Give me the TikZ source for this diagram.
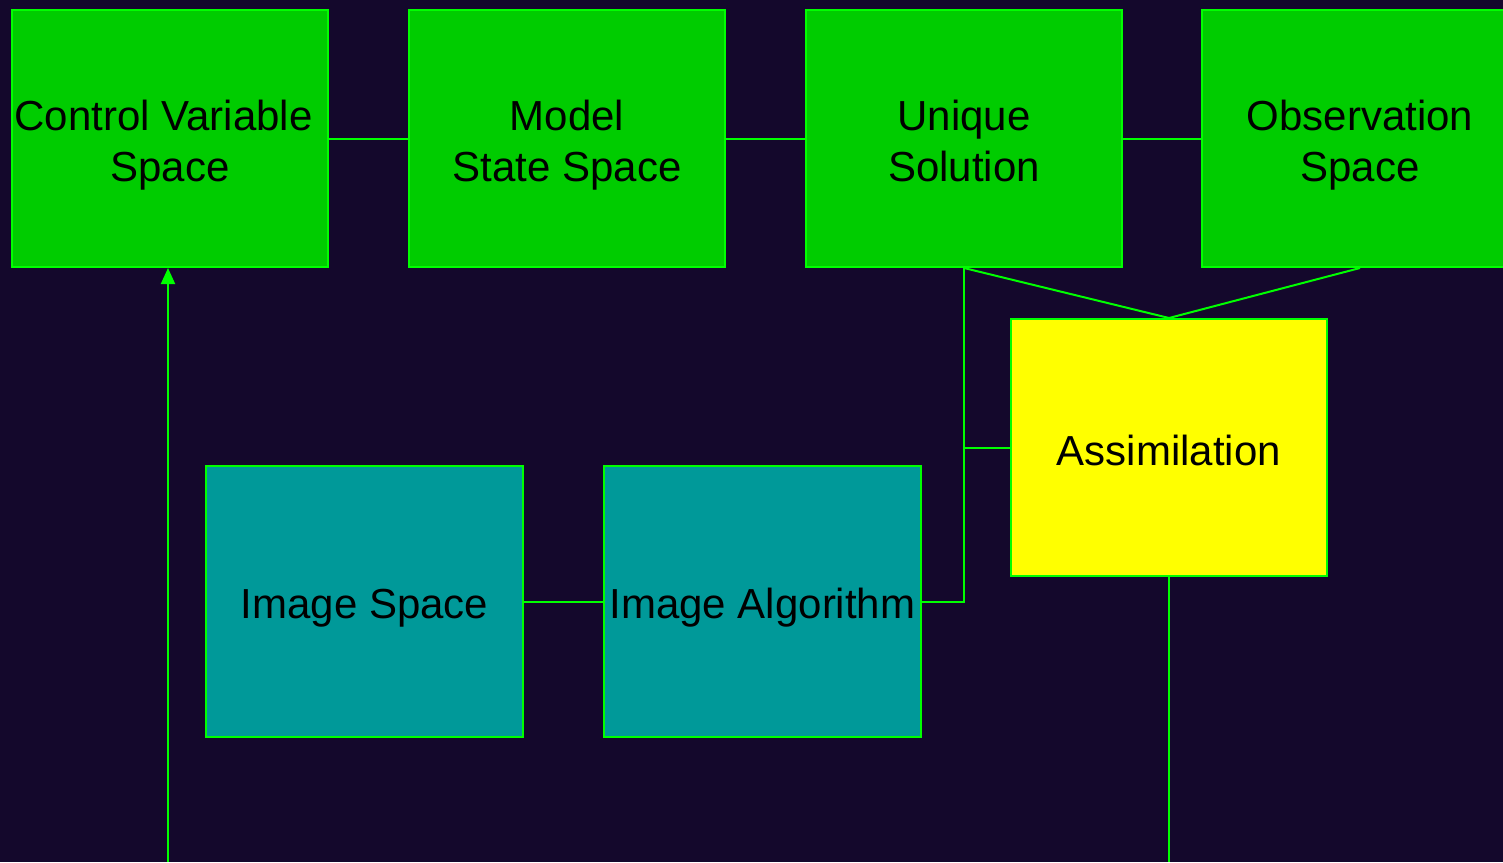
\documentclass[tikz,border=0pt]{standalone}
\usepackage{fontspec}
\setmainfont{Liberation Sans}
\usetikzlibrary{arrows.meta}
\definecolor{bg}{RGB}{20,8,44}
\definecolor{lgreen}{RGB}{0,255,0}
\definecolor{bgreen}{RGB}{0,204,0}
\definecolor{teal2}{RGB}{0,153,153}
\definecolor{yel}{RGB}{255,255,0}
\tikzset{
  box/.style={draw=lgreen, line width=2pt, minimum width=316pt, minimum height=257pt,
    inner sep=0pt, align=center, font=\fontsize{42}{51}\selectfont, text=black,
    execute at begin node={\rule{0pt}{43.5pt}},
    execute at end node={\rule[-7.5pt]{0pt}{7.5pt}}},
  greenbox/.style={box, fill=bgreen},
  yellowbox/.style={box, fill=yel},
  tealbox/.style={box, fill=teal2, minimum width=317pt, minimum height=271pt},
  lbl/.style={align=center, font=\fontsize{42}{51}\selectfont, text=black, inner sep=0pt, yshift=-7pt,
    execute at end node={\rule[-8.8pt]{0pt}{8.8pt}}},
  conn/.style={draw=lgreen, line width=2pt},
}
\begin{document}
\begin{tikzpicture}[x=1pt,y=-1pt]
\fill[bg] (0,0) rectangle (1503,862);
\useasboundingbox (0,0) rectangle (1503,862);
\clip (0,0) rectangle (1503,862);
\node[greenbox, label={[lbl,name=cvst]center:Control Variable\hspace*{13pt}\\Space}] (cvs) at (170,138.5) {};
\node[greenbox, label={[lbl,name=msst]center:Model\\State Space}] (mss) at (567,138.5) {};
\node[greenbox, label={[lbl,name=ust]center:Unique\\Solution}] (us) at (964,138.5) {};
\node[greenbox, label={[lbl,name=ost]center:Observation\\Space}] (os) at (1360,138.5) {};
\node[yellowbox] (asm) at (1169,447.5) {Assimilation};
\node[tealbox] (is) at (364.5,601.5) {Image Space};
\node[tealbox] (ia) at (762.5,601.5) {Image Algorithm};
\coordinate (j) at (us.south |- asm.west);
\coordinate (bot) at (asm.south |- 0,862);
\coordinate (src) at (168,862);
\draw[conn] (cvs.east) -- (mss.west);
\draw[conn] (mss.east) -- (us.west);
\draw[conn] (us.east) -- (os.west);
\draw[conn] (us.south) -- (asm.north);
\draw[conn] (os.south) -- (asm.north);
\draw[conn] (us.south) |- (asm.west);
\draw[conn] (j) |- (ia.east);
\draw[conn] (is.east) -- (ia.west);
\draw[conn] (asm.south) -- (bot);
\draw[conn, -{Triangle[length=16pt,width=14pt]}] (src) -- (src |- cvs.south);
\end{tikzpicture}
\end{document}
